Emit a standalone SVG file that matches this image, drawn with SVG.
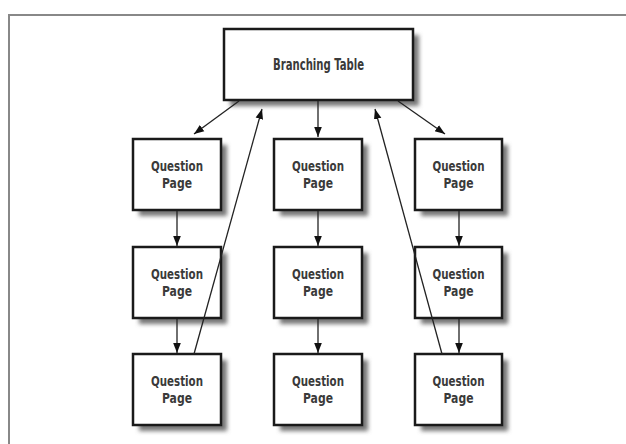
<svg xmlns="http://www.w3.org/2000/svg" width="626" height="444" viewBox="0 0 626 444">
<defs>
<filter id="sh" x="-20%" y="-20%" width="150%" height="150%">
<feGaussianBlur stdDeviation="2"/>
</filter>
<marker id="ah" viewBox="0 0 10 10" refX="10" refY="5" markerWidth="10" markerHeight="10" markerUnits="userSpaceOnUse" orient="auto">
<path d="M0,1.2 L10,5 L0,8.8 Z" fill="#111"/>
</marker>
</defs>
<style>
.box{fill:#fff;stroke:#1a1a1a;stroke-width:2.5}
.shadow{fill:#777;filter:url(#sh)}
.t{font-family:"DejaVu Sans Condensed","Liberation Sans",sans-serif;font-size:14px;font-weight:bold;fill:#3a3a3a;text-anchor:middle}
.b{font-size:16px}
.c{stroke:#222;stroke-width:1.3;fill:none;marker-end:url(#ah)}
</style>
<rect width="626" height="444" fill="#fff"/>
<path d="M9,444 V15 H626" fill="none" stroke="#888" stroke-width="2"/>
<g id="branching-table">
<rect class="shadow" x="230" y="35" width="189" height="71"/>
<rect class="box" x="224" y="29" width="189" height="71"/>
<text class="t b" x="318.5" y="70" textLength="91" lengthAdjust="spacingAndGlyphs">Branching Table</text>
</g>
<g id="q11">
<rect class="shadow" x="139" y="145" width="88" height="71"/>
<rect class="box" x="133" y="139" width="88" height="71"/>
<text class="t" x="177" y="171" textLength="52" lengthAdjust="spacingAndGlyphs">Question</text>
<text class="t" x="177" y="188" textLength="30" lengthAdjust="spacingAndGlyphs">Page</text>
</g>
<g id="q12">
<rect class="shadow" x="139" y="253" width="88" height="71"/>
<rect class="box" x="133" y="247" width="88" height="71"/>
<text class="t" x="177" y="279" textLength="52" lengthAdjust="spacingAndGlyphs">Question</text>
<text class="t" x="177" y="296" textLength="30" lengthAdjust="spacingAndGlyphs">Page</text>
</g>
<g id="q13">
<rect class="shadow" x="139" y="360" width="88" height="71"/>
<rect class="box" x="133" y="354" width="88" height="71"/>
<text class="t" x="177" y="386" textLength="52" lengthAdjust="spacingAndGlyphs">Question</text>
<text class="t" x="177" y="403" textLength="30" lengthAdjust="spacingAndGlyphs">Page</text>
</g>
<g id="q21">
<rect class="shadow" x="280" y="145" width="88" height="71"/>
<rect class="box" x="274" y="139" width="88" height="71"/>
<text class="t" x="318" y="171" textLength="52" lengthAdjust="spacingAndGlyphs">Question</text>
<text class="t" x="318" y="188" textLength="30" lengthAdjust="spacingAndGlyphs">Page</text>
</g>
<g id="q22">
<rect class="shadow" x="280" y="253" width="88" height="71"/>
<rect class="box" x="274" y="247" width="88" height="71"/>
<text class="t" x="318" y="279" textLength="52" lengthAdjust="spacingAndGlyphs">Question</text>
<text class="t" x="318" y="296" textLength="30" lengthAdjust="spacingAndGlyphs">Page</text>
</g>
<g id="q23">
<rect class="shadow" x="280" y="360" width="88" height="71"/>
<rect class="box" x="274" y="354" width="88" height="71"/>
<text class="t" x="318" y="386" textLength="52" lengthAdjust="spacingAndGlyphs">Question</text>
<text class="t" x="318" y="403" textLength="30" lengthAdjust="spacingAndGlyphs">Page</text>
</g>
<g id="q31">
<rect class="shadow" x="421" y="145" width="87" height="71"/>
<rect class="box" x="415" y="139" width="87" height="71"/>
<text class="t" x="458.5" y="171" textLength="52" lengthAdjust="spacingAndGlyphs">Question</text>
<text class="t" x="458.5" y="188" textLength="30" lengthAdjust="spacingAndGlyphs">Page</text>
</g>
<g id="q32">
<rect class="shadow" x="421" y="253" width="87" height="71"/>
<rect class="box" x="415" y="247" width="87" height="71"/>
<text class="t" x="458.5" y="279" textLength="52" lengthAdjust="spacingAndGlyphs">Question</text>
<text class="t" x="458.5" y="296" textLength="30" lengthAdjust="spacingAndGlyphs">Page</text>
</g>
<g id="q33">
<rect class="shadow" x="421" y="360" width="87" height="71"/>
<rect class="box" x="415" y="354" width="87" height="71"/>
<text class="t" x="458.5" y="386" textLength="52" lengthAdjust="spacingAndGlyphs">Question</text>
<text class="t" x="458.5" y="403" textLength="30" lengthAdjust="spacingAndGlyphs">Page</text>
</g>
<g id="connectors">
<line class="c" x1="239" y1="101" x2="194" y2="134"/>
<line class="c" x1="318" y1="101" x2="318" y2="137"/>
<line class="c" x1="398" y1="101" x2="445" y2="134"/>
<line class="c" x1="177" y1="211" x2="177" y2="246"/>
<line class="c" x1="177" y1="319" x2="177" y2="353"/>
<line class="c" x1="318" y1="211" x2="318" y2="246"/>
<line class="c" x1="318" y1="319" x2="318" y2="353"/>
<line class="c" x1="459" y1="211" x2="459" y2="246"/>
<line class="c" x1="459" y1="319" x2="459" y2="353"/>
<line class="c" x1="194" y1="354" x2="262" y2="109"/>
<line class="c" x1="442" y1="354" x2="375" y2="109"/>
</g>
</svg>
